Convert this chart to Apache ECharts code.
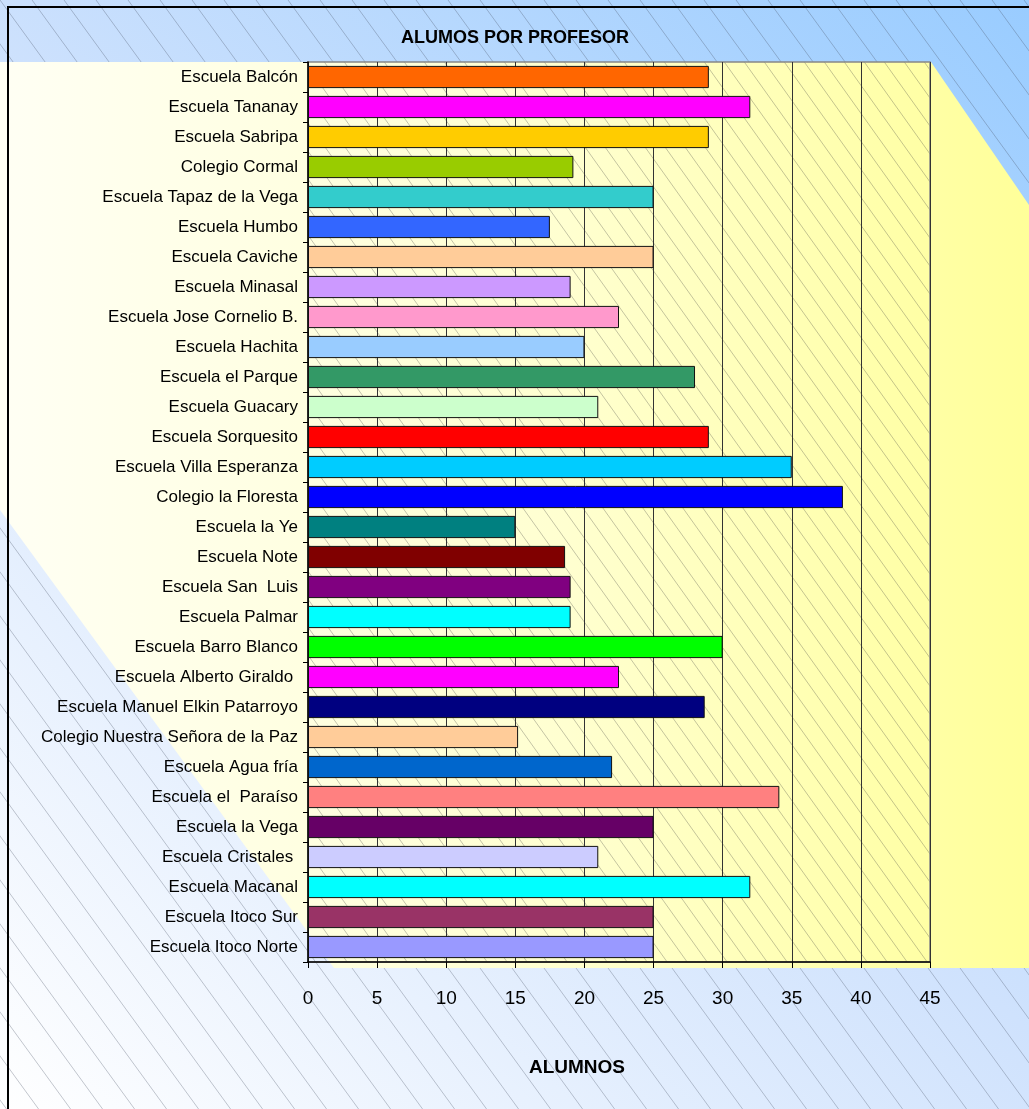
<!DOCTYPE html>
<html>
<head>
<meta charset="utf-8">
<script src="https://cdn.jsdelivr.net/npm/echarts@6/dist/echarts.min.js"></script>
<style>
  html, body { margin: 0; padding: 0; background: #fff; }
  #chart { width: 1029px; height: 1109px; }
</style>
</head>
<body>
<div id="chart"></div>
<script>
// schools, top to bottom as in the original sheet
const schools = [
    'Escuela Balcón', 'Escuela Tananay', 'Escuela Sabripa', 'Colegio Cormal',
    'Escuela Tapaz de la Vega', 'Escuela Humbo', 'Escuela Caviche', 'Escuela Minasal',
    'Escuela Jose Cornelio B.', 'Escuela Hachita', 'Escuela el Parque', 'Escuela Guacary',
    'Escuela Sorquesito', 'Escuela Villa Esperanza', 'Colegio la Floresta', 'Escuela la Ye',
    'Escuela Note', 'Escuela San  Luis', 'Escuela Palmar', 'Escuela Barro Blanco',
    'Escuela Alberto Giraldo ', 'Escuela Manuel Elkin Patarroyo', 'Colegio Nuestra Señora de la Paz',
    'Escuela Agua fría', 'Escuela el  Paraíso', 'Escuela la Vega', 'Escuela Cristales ',
    'Escuela Macanal', 'Escuela Itoco Sur', 'Escuela Itoco Norte'
];
const alumnos = [
    29, 32, 29, 19.2,
    25, 17.5, 25, 19,
    22.5, 20, 28, 21,
    29, 35, 38.7, 15,
    18.6, 19, 19, 30,
    22.5, 28.7, 15.2,
    22, 34.1, 25, 21,
    32, 25, 25
];
const barColors = [
    '#FF6600', '#FF00FF', '#FFCC00', '#99CC00',
    '#33CCCC', '#3366FF', '#FFCC99', '#CC99FF',
    '#FF99CC', '#99CCFF', '#339966', '#CCFFCC',
    '#FF0000', '#00CCFF', '#0000FF', '#008080',
    '#800000', '#800080', '#00FFFF', '#00FF00',
    '#FF00FF', '#000080', '#FFCC99',
    '#0066CC', '#FF8080', '#660066', '#CCCCFF',
    '#00FFFF', '#993366', '#9999FF'
];

const W = 1029, H = 1109;
const gridLeft = 308, gridTop = 62, gridRight = 99, gridBottom = 147;

// diagonal hatch tile
function hatch(w, h, stroke) {
    const c = document.createElement('canvas');
    c.width = w; c.height = h;
    const ctx = c.getContext('2d');
    ctx.strokeStyle = stroke;
    ctx.lineWidth = 1;
    for (let k = -1; k <= 1; k++) {
        ctx.beginPath();
        ctx.moveTo(k * w - w, -h);
        ctx.lineTo(k * w + 2 * w, 2 * h);
        ctx.stroke();
    }
    return c;
}

const chart = echarts.init(document.getElementById('chart'), null, { renderer: 'canvas' });

const plotW = W - gridLeft - gridRight;
const plotH = H - gridTop - gridBottom;

const option = {
    animation: false,
    textStyle: { fontFamily: 'Liberation Sans, Arial, sans-serif' },
    title: {
        text: 'ALUMOS POR PROFESOR',
        left: 510, top: 24, textAlign: 'center',
        textStyle: { fontSize: 18, fontWeight: 'bold', color: '#000' }
    },
    graphic: [
        {
            type: 'rect', z: -20, silent: true,
            shape: { x: 0, y: 0, width: W, height: H },
            style: {
                fill: new echarts.graphic.LinearGradient(0, 1, 1, 0, [
                    { offset: 0, color: '#ffffff' },
                    { offset: 0.5, color: '#cfe2fd' },
                    { offset: 1, color: '#99ccff' }
                ])
            }
        },
        {
            type: 'rect', z: -19, silent: true,
            shape: { x: 0, y: 0, width: W, height: H },
            style: { fill: { image: hatch(32, 44, 'rgba(70,80,100,0.32)'), repeat: 'repeat' } }
        },
        {
            type: 'polygon', z: -18, silent: true,
            shape: { points: [[0, 62], [931, 62], [1029, 205], [1029, 968], [334, 968], [0, 510]] },
            style: {
                fill: new echarts.graphic.LinearGradient(0, 0, 1, 0, [
                    { offset: 0, color: '#fffff4' },
                    { offset: 0.55, color: '#ffffd0' },
                    { offset: 1, color: '#ffff99' }
                ])
            }
        },
        {
            type: 'rect', z: -17, silent: true,
            shape: { x: gridLeft, y: gridTop, width: plotW, height: plotH },
            style: {
                fill: { image: hatch(20, 28, 'rgba(60,60,60,0.3)'), repeat: 'repeat' },
                stroke: '#888', lineWidth: 1.5
            }
        },
        {
            type: 'polyline', z: 50, silent: true,
            shape: { points: [[8, H + 5], [8, 7], [W + 5, 7]] },
            style: { stroke: '#000', lineWidth: 2, fill: null }
        }
    ],
    grid: { left: gridLeft, top: gridTop, right: gridRight, bottom: gridBottom, containLabel: false },
    xAxis: {
        type: 'value',
        min: 0, max: 45, interval: 5,
        name: 'ALUMNOS',
        nameLocation: 'middle',
        nameGap: 96,
        nameTextStyle: { fontSize: 19, fontWeight: 'bold', color: '#000', padding: [0, 84, 0, 0] },
        axisLine: { show: true, lineStyle: { color: '#000', width: 1.5 } },
        axisTick: { show: true, length: 6, lineStyle: { color: '#000' } },
        axisLabel: { fontSize: 19, color: '#000', margin: 27 },
        splitLine: { show: true, lineStyle: { color: '#333', width: 1 } }
    },
    yAxis: {
        type: 'category',
        data: schools,
        inverse: true,
        axisLine: { show: true, lineStyle: { color: '#000', width: 1.5 } },
        axisTick: { show: true, length: 5, inside: false, lineStyle: { color: '#000' } },
        axisLabel: { fontSize: 17, color: '#000', margin: 10, interval: 0 },
        splitLine: { show: false }
    },
    series: [{
        type: 'bar',
        data: alumnos,
        barCategoryGap: '26%',
        itemStyle: {
            color: p => barColors[p.dataIndex],
            borderColor: '#111',
            borderWidth: 1
        }
    }]
};

chart.setOption(option);
</script>
</body>
</html>
